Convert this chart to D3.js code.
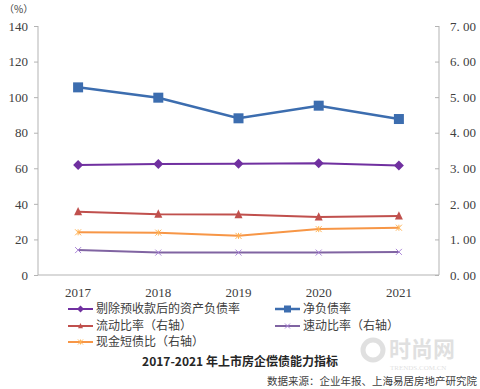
<!DOCTYPE html>
<html>
<head>
<meta charset="utf-8">
<script src="https://cdn.jsdelivr.net/npm/d3@7"></script>
<style>
body { margin: 0; background: #fff; }
svg { display: block; }
</style>
</head>
<body>
<div id="chart"></div>
<script>
// Data
var years = ["2017", "2018", "2019", "2020", "2021"];
var assetLiab = [61.9, 62.4, 62.6, 62.8, 61.5];   // 剔除预收款后的资产负债率 (left)
var netDebt = [105.5, 99.7, 88.1, 95.2, 87.7];     // 净负债率 (left)
var currentRatio = [1.78, 1.71, 1.70, 1.63, 1.66]; // 流动比率 (right)
var quickRatio = [0.70, 0.63, 0.63, 0.63, 0.65];   // 速动比率 (right)
var cashRatio = [1.20, 1.19, 1.10, 1.29, 1.33];    // 现金短债比 (right)
var leftTicks = [0, 20, 40, 60, 80, 100, 120, 140];
var rightTicks = [0, 1, 2, 3, 4, 5, 6, 7];

var width = 480, height = 389;
var plotLeft = 38, plotRight = 439, plotTop = 26, plotBottom = 275;

var svg = d3.select("#chart").append("svg")
  .attr("width", width).attr("height", height);

var x = d3.scaleBand().domain(years).range([plotLeft, plotRight]);
var yL = d3.scaleLinear().domain([0, 140]).range([plotBottom, plotTop]);
var yR = d3.scaleLinear().domain([0, 7]).range([plotBottom, plotTop]);

var serif = "'Liberation Serif', 'DejaVu Serif', serif";
var cjk = "'Noto Sans CJK SC', sans-serif";
var axisColor = "#b3b3b3";
var textColor = "#404040";

// Left axis
var leftAxis = svg.append("g")
  .attr("transform", "translate(" + plotLeft + ",0)")
  .call(d3.axisLeft(yL).tickValues(leftTicks).tickSize(4).tickPadding(6));
// Right axis
var rightAxis = svg.append("g")
  .attr("transform", "translate(" + plotRight + ",0)")
  .call(d3.axisRight(yR).tickValues(rightTicks).tickSizeInner(-4).tickSizeOuter(0).tickPadding(11)
    .tickFormat(function(d) { return d3.format(".2f")(d).replace(".", ". "); }));
// Bottom axis
var bottomAxis = svg.append("g")
  .attr("transform", "translate(0," + plotBottom + ")")
  .call(d3.axisBottom(x).tickSize(0).tickPadding(13));

[leftAxis, rightAxis, bottomAxis].forEach(function(g) {
  g.select(".domain").attr("stroke", axisColor);
  g.selectAll(".tick line").attr("stroke", axisColor);
  g.selectAll("text").attr("fill", textColor).style("font-family", serif).style("font-size", "13px");
});
leftAxis.select(".domain").attr("d", "M0," + plotTop + "V" + plotBottom);
rightAxis.select(".domain").attr("d", "M0," + plotTop + "V" + plotBottom);
bottomAxis.select(".domain").attr("d", "M" + plotLeft + ",0H" + plotRight);

svg.append("text")
  .attr("x", 4).attr("y", 13)
  .attr("fill", textColor)
  .style("font-family", cjk).style("font-size", "10px")
  .text("（%）");

// Series definitions
var series = [
  { name: "剔除预收款后的资产负债率", values: assetLiab, scale: yL, color: "#7030A0", marker: "diamond", size: 5, width: 2 },
  { name: "净负债率", values: netDebt, scale: yL, color: "#3C6DAF", marker: "square", size: 10, width: 2.5 },
  { name: "流动比率（右轴）", values: currentRatio, scale: yR, color: "#C0504D", marker: "triangle", size: 8, width: 2 },
  { name: "速动比率（右轴）", values: quickRatio, scale: yR, color: "#8064A2", marker: "cross", size: 6, width: 2 },
  { name: "现金短债比（右轴）", values: cashRatio, scale: yR, color: "#F79646", marker: "star", size: 6, width: 2 }
];

function drawMarker(g, type, cx, cy, s, color) {
  if (type === "diamond") {
    g.append("path").attr("d", "M" + cx + "," + (cy - s) + "L" + (cx + s) + "," + cy + "L" + cx + "," + (cy + s) + "L" + (cx - s) + "," + cy + "Z")
      .attr("fill", color);
  } else if (type === "square") {
    g.append("rect").attr("x", cx - s / 2).attr("y", cy - s / 2).attr("width", s).attr("height", s).attr("fill", color);
  } else if (type === "triangle") {
    g.append("path").attr("d", "M" + cx + "," + (cy - s * 0.6) + "L" + (cx + s / 2) + "," + (cy + s * 0.45) + "L" + (cx - s / 2) + "," + (cy + s * 0.45) + "Z")
      .attr("fill", color);
  } else if (type === "cross") {
    var h = s / 2;
    g.append("path").attr("d", "M" + (cx - h) + "," + (cy - h) + "L" + (cx + h) + "," + (cy + h) + "M" + (cx - h) + "," + (cy + h) + "L" + (cx + h) + "," + (cy - h))
      .attr("stroke", d3.color(color).brighter(0.8)).attr("stroke-width", 1).attr("fill", "none");
  } else if (type === "star") {
    var k = s / 2;
    g.append("path").attr("d", "M" + (cx - k) + "," + (cy - k) + "L" + (cx + k) + "," + (cy + k) + "M" + (cx - k) + "," + (cy + k) + "L" + (cx + k) + "," + (cy - k) +
      "M" + cx + "," + (cy - k) + "L" + cx + "," + (cy + k))
      .attr("stroke", d3.color(color).brighter(0.5)).attr("stroke-width", 1).attr("fill", "none");
  }
}

var lineGroup = svg.append("g");
series.forEach(function(s) {
  var line = d3.line()
    .x(function(d, i) { return x(years[i]) + x.bandwidth() / 2; })
    .y(function(d) { return s.scale(d); });
  lineGroup.append("path")
    .datum(s.values)
    .attr("d", line)
    .attr("fill", "none")
    .attr("stroke", s.color)
    .attr("stroke-width", s.width);
  s.values.forEach(function(v, i) {
    drawMarker(lineGroup, s.marker, x(years[i]) + x.bandwidth() / 2, s.scale(v), s.size, s.color);
  });
});

// Legend
var legendPos = [
  { x: 68, y: 309 }, { x: 275, y: 309 },
  { x: 68, y: 326 }, { x: 275, y: 326 },
  { x: 68, y: 342 }
];
series.forEach(function(s, i) {
  var p = legendPos[i];
  var g = svg.append("g");
  g.append("line").attr("x1", p.x).attr("x2", p.x + 25).attr("y1", p.y).attr("y2", p.y)
    .attr("stroke", s.color).attr("stroke-width", s.width);
  var ms = s.marker === "square" ? 7 : (s.marker === "diamond" ? 3.5 : 5);
  drawMarker(g, s.marker, p.x + 12.5, p.y, ms, s.color);
  g.append("text").attr("x", p.x + 28).attr("y", p.y).attr("dy", "0.36em")
    .attr("fill", textColor)
    .style("font-family", cjk).style("font-size", "12px")
    .text(s.name);
});

// Watermark
var wm = svg.append("g").attr("opacity", 0.25);
wm.append("circle").attr("cx", 373).attr("cy", 350).attr("r", 10)
  .attr("fill", "none").attr("stroke", "#888").attr("stroke-width", 5);
wm.append("text").attr("x", 389).attr("y", 357)
  .attr("fill", "#888").style("font-family", cjk).style("font-size", "22px").style("font-weight", "bold")
  .text("时尚网");
wm.append("text").attr("x", 390).attr("y", 370)
  .attr("fill", "#888").style("font-family", serif).style("font-size", "7px")
  .text("TRENDS.COM.CN");

// Title
svg.append("text")
  .attr("x", 240).attr("y", 362).attr("dy", "0.36em")
  .attr("text-anchor", "middle")
  .attr("fill", "#262626")
  .style("font-family", cjk).style("font-size", "12px").style("font-weight", "bold")
  .text("2017-2021 年上市房企偿债能力指标");

// Source
svg.append("text")
  .attr("x", 477).attr("y", 381).attr("dy", "0.36em")
  .attr("text-anchor", "end")
  .attr("fill", "#404040")
  .style("font-family", cjk).style("font-size", "10.5px")
  .text("数据来源：企业年报、上海易居房地产研究院");
</script>
</body>
</html>
